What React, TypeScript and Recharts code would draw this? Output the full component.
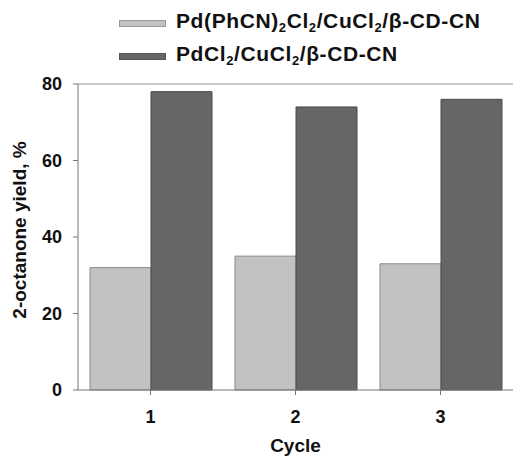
import React from 'react';
import { BarChart, Bar, XAxis, YAxis, ReferenceLine } from 'recharts';

const cycles = ['1', '2', '3'];
const pdPhcnYield = [32, 35, 33];
const pdcl2Yield = [78, 74, 76];
const yTicks = [0, 20, 40, 60, 80];

const data = cycles.map((c, i) => ({ cycle: c, phcn: pdPhcnYield[i], pdcl2: pdcl2Yield[i] }));

const FONT = 'Arial, "Liberation Sans", Helvetica, sans-serif';
const LIGHT = '#c2c2c2';
const DARK = '#666666';

const sub = { fontSize: '0.62em', verticalAlign: '-0.3em' } as React.CSSProperties;

const swatch = (color: string, border: string) => (
  <div style={{ flex: '0 0 auto', boxSizing: 'border-box', width: 47, height: 7, background: color, border: `1px solid ${border}`, marginRight: 10, marginTop: 3 }} />
);

const LegendBox = () => (
  <div style={{ position: 'absolute', left: 119, top: 8, fontFamily: FONT, fontWeight: 'bold', fontSize: 21, letterSpacing: 0.6, color: '#111', whiteSpace: 'nowrap' }}>
    <div style={{ display: 'flex', alignItems: 'center', height: 28 }}>
      {swatch(LIGHT, '#999')}
      <span>
        Pd(PhCN)<span style={sub}>2</span>Cl<span style={sub}>2</span>/CuCl<span style={sub}>2</span>/β-CD-CN
      </span>
    </div>
    <div style={{ display: 'flex', alignItems: 'center', height: 28, marginTop: 5 }}>
      {swatch(DARK, '#555')}
      <span>
        PdCl<span style={sub}>2</span>/CuCl<span style={sub}>2</span>/β-CD-CN
      </span>
    </div>
  </div>
);

const YLabel = () => (
  <text
    transform="translate(21,230) rotate(-90)"
    textAnchor="middle"
    dominantBaseline="middle"
    fill="#111"
    fontSize={19}
    fontWeight="bold"
    fontFamily={FONT}
  >
    2-octanone yield, %
  </text>
);

export default function App() {
  return (
    <div style={{ position: 'absolute', left: 0, top: 0, width: 513, height: 458, background: '#fff' }}>
      <BarChart
        width={513}
        height={458}
        data={data}
        margin={{ top: 84, right: 0, left: 0, bottom: 0 }}
        barCategoryGap={12}
        barGap={0}
      >
        <XAxis
          dataKey="cycle"
          height={68}
          stroke="#777"
          tickSize={5}
          tickMargin={15}
          tick={{ fill: '#111', fontSize: 18, fontWeight: 'bold', fontFamily: FONT }}
          label={{ value: 'Cycle', position: 'insideBottom', offset: 6, fill: '#111', fontSize: 19, fontWeight: 'bold', fontFamily: FONT }}
        />
        <YAxis
          width={78}
          domain={[0, 80]}
          ticks={yTicks}
          stroke="#777"
          tickSize={5}
          tickMargin={11}
          tick={{ fill: '#111', fontSize: 18, fontWeight: 'bold', fontFamily: FONT }}
          label={{ content: () => <YLabel /> }}
        />
        <ReferenceLine y={80} stroke="#999" />
        <Bar dataKey="phcn" fill={LIGHT} stroke="#8a8a8a" strokeWidth={1} isAnimationActive={false} />
        <Bar dataKey="pdcl2" fill={DARK} stroke="#4a4a4a" strokeWidth={1} isAnimationActive={false} />
      </BarChart>
      <LegendBox />
    </div>
  );
}
